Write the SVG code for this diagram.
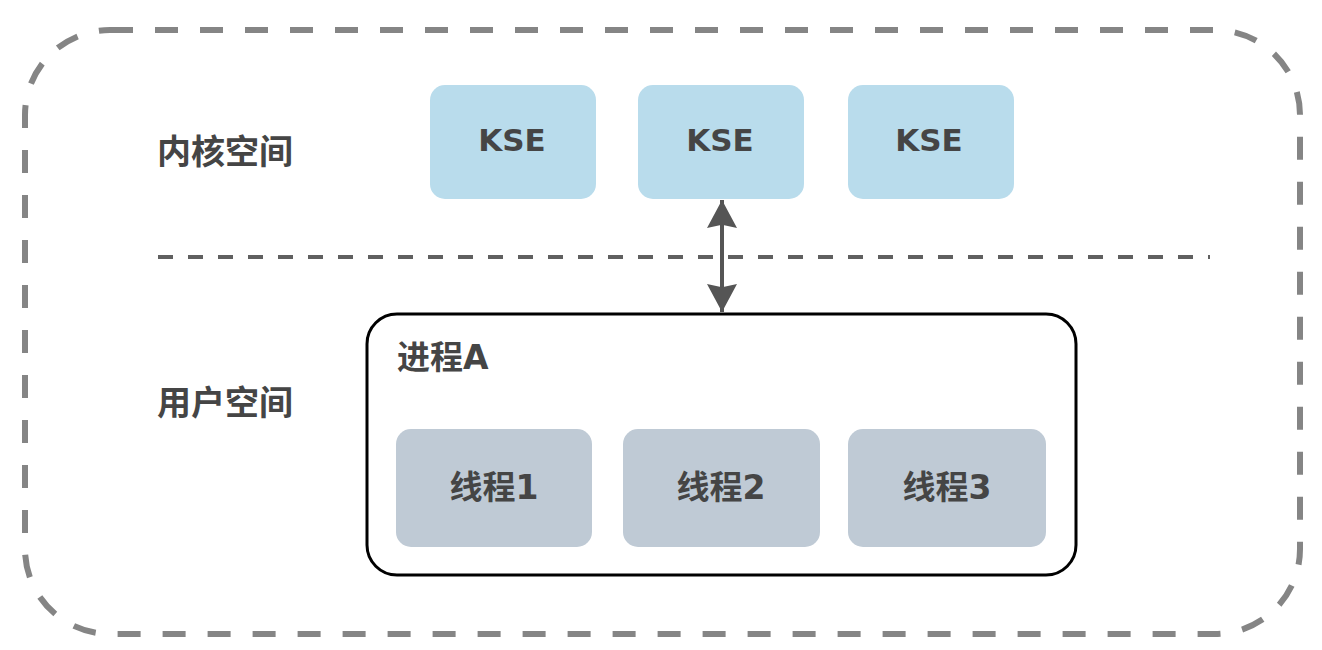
<svg xmlns="http://www.w3.org/2000/svg" width="1322" height="650" viewBox="0 0 1322 650">
<style>
.t{font-family:"DejaVu Sans","Noto Sans CJK SC",sans-serif;font-weight:bold;fill:#454545;}
.kse{fill:#b9dcec;}
.thr{fill:#bfcad5;}
</style>
<defs>
<marker id="ah" viewBox="0 0 10 10" refX="10" refY="5" markerWidth="7" markerHeight="7.5" orient="auto-start-reverse" markerUnits="strokeWidth" preserveAspectRatio="none">
<path d="M0,0 L10,5 L0,10 L1.2,5 z" fill="#555"/>
</marker>
</defs>
<rect width="1322" height="650" fill="#fff"/>
<g id="outer">
<rect x="25" y="30" width="1275" height="604" rx="85" ry="85" fill="none" stroke="#858585" stroke-width="6" stroke-dasharray="23 22"/>
</g>
<g id="divider">
<line x1="158" y1="257" x2="1210" y2="257" stroke="#606060" stroke-width="4" stroke-dasharray="15 15"/>
</g>
<g id="label-kernel"><text class="t" x="157" y="164" font-size="34">内核空间</text></g>
<g id="label-user"><text class="t" x="157" y="415" font-size="34">用户空间</text></g>
<g id="kse1"><rect class="kse" x="430" y="85" width="166" height="114" rx="15"/><text class="t" x="512" y="151" font-size="31" text-anchor="middle">KSE</text></g>
<g id="kse2"><rect class="kse" x="638" y="85" width="166" height="114" rx="15"/><text class="t" x="720" y="151" font-size="31" text-anchor="middle">KSE</text></g>
<g id="kse3"><rect class="kse" x="848" y="85" width="166" height="114" rx="15"/><text class="t" x="929" y="151" font-size="31" text-anchor="middle">KSE</text></g>
<g id="processA">
<rect x="367" y="314" width="709" height="261" rx="30" fill="#fff" stroke="#000" stroke-width="3"/>
<text class="t" x="397" y="369" font-size="33">进程A</text>
</g>
<g id="thread1"><rect class="thr" x="396" y="429" width="196" height="118" rx="15"/><text class="t" x="494" y="499" font-size="33" text-anchor="middle">线程1</text></g>
<g id="thread2"><rect class="thr" x="623" y="429" width="197" height="118" rx="15"/><text class="t" x="721" y="499" font-size="33" text-anchor="middle">线程2</text></g>
<g id="thread3"><rect class="thr" x="848" y="429" width="198" height="118" rx="15"/><text class="t" x="947" y="499" font-size="33" text-anchor="middle">线程3</text></g>
<g id="connectors">
<line x1="722" y1="200" x2="722" y2="312" stroke="#555" stroke-width="4" marker-start="url(#ah)" marker-end="url(#ah)"/>
</g>
</svg>
